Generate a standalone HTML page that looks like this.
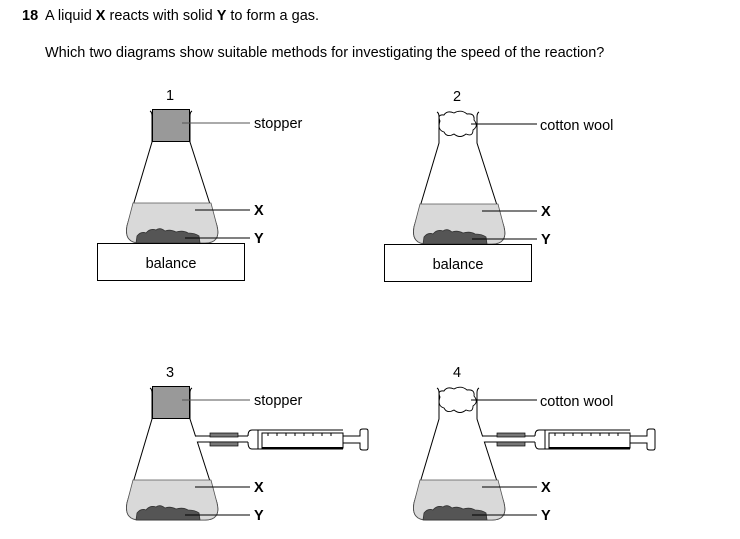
<!DOCTYPE html>
<html><head><style>
body{margin:0;background:#fff;width:740px;height:539px;overflow:hidden;font-family:"Liberation Sans",Arial,sans-serif;}
svg{position:absolute;left:0;top:0}
text{font-family:"Liberation Sans",Arial,sans-serif;font-size:14.5px;fill:#000}
</style></head><body>
<svg width="740" height="539" viewBox="0 0 740 539">
<defs>
<g id="flask">
  <path d="M150,111 Q152,112 152,116 L152,142 L127,226 Q124,243 140,243 L205,243 Q221,243 217,226 L190,142 L190,116 Q190,112 192,111" fill="none" stroke="#000" stroke-width="1"/>
  <path d="M133,203 L211,203 L217,226 Q221,243 205,243 L140,243 Q124,243 127,226 Z" fill="#d9d9d9" stroke="#555" stroke-width="0.8"/>
  <path d="M136,243 L137,236 Q141,231 146,233 Q150,228 156,230 Q160,227 165,231 Q170,229 176,232 Q183,230 188,233 Q195,233 199,236 L200,243 Z" fill="#555" stroke="#333" stroke-width="0.8"/>
  <line x1="195" y1="210" x2="250" y2="210" stroke="#000"/>
  <line x1="185" y1="238" x2="250" y2="238" stroke="#000"/>
  <text x="254" y="215" font-weight="bold">X</text>
  <text x="254" y="243" font-weight="bold">Y</text>
</g>
<g id="stopper">
  <rect x="152.5" y="109.5" width="37" height="32" fill="#999" stroke="#000"/>
  <line x1="182" y1="123" x2="250" y2="123" stroke="#555"/>
  <text x="254" y="128">stopper</text>
</g>
<g id="cotton">
  <path d="M153,120 Q150,113 157,114 Q160,109 167,112 Q174,108 180,113 Q188,112 187,119 Q192,125 186,129 Q186,136 179,133 Q173,138 167,133 Q160,137 157,131 Q150,129 153,120 Z" fill="#fff" stroke="#000" stroke-width="0.9"/>
  <line x1="184" y1="123" x2="250" y2="123" stroke="#000"/>
  <text x="253" y="129">cotton wool</text>
</g>
<g id="syringe">
  <rect x="194" y="436.6" width="7" height="5" fill="#fff"/>
  <path d="M195.5,436 L248,436" fill="none" stroke="#000"/>
  <path d="M197.4,442 L248,442" fill="none" stroke="#000"/>
  <rect x="210" y="433" width="28" height="4" fill="#777" stroke="#000" stroke-width="0.7"/>
  <rect x="210" y="442" width="28" height="4" fill="#777" stroke="#000" stroke-width="0.7"/>
  <path d="M248,436 Q248,430 252,430 L343,430 M248,442 Q248,449 252,449 L343,449" fill="none" stroke="#000"/>
  <line x1="258" y1="430" x2="258" y2="449" stroke="#000"/>
  <path d="M262,433 L343,433 L343,448 L262,448 Z" fill="none" stroke="#000"/>
  <line x1="262" y1="448" x2="343" y2="448" stroke="#000" stroke-width="2"/>
  <path d="M343,436 L360,436 L360,431 Q360,429 363,429 L366,429 Q368,429 368,431 L368,448 Q368,450 366,450 L363,450 Q360,450 360,448 L360,443 L343,443" fill="none" stroke="#000"/>
  <g stroke="#000">
    <line x1="268" y1="433" x2="268" y2="436"/><line x1="277" y1="433" x2="277" y2="436"/><line x1="286" y1="433" x2="286" y2="436"/><line x1="295" y1="433" x2="295" y2="436"/><line x1="304" y1="433" x2="304" y2="436"/><line x1="313" y1="433" x2="313" y2="436"/><line x1="322" y1="433" x2="322" y2="436"/><line x1="331" y1="433" x2="331" y2="436"/>
  </g>
</g>
</defs>

<text x="22" y="20" font-weight="bold">18</text>
<text x="45" y="20">A liquid <tspan font-weight="bold">X</tspan> reacts with solid <tspan font-weight="bold">Y</tspan> to form a gas.</text>
<text x="45" y="57">Which two diagrams show suitable methods for investigating the speed of the reaction?</text>

<text x="166" y="100">1</text>
<use href="#flask"/>
<use href="#stopper"/>
<rect x="97.5" y="243.5" width="147" height="37" fill="#fff" stroke="#000"/>
<text x="171" y="268" text-anchor="middle">balance</text>

<g transform="translate(287,1)">
<text x="166" y="100">2</text>
<use href="#flask"/>
<use href="#cotton"/>
<rect x="97.5" y="243.5" width="147" height="37" fill="#fff" stroke="#000"/>
<text x="171" y="268" text-anchor="middle">balance</text>
</g>

<g transform="translate(0,277)">
<text x="166" y="100">3</text>
<use href="#flask"/>
<use href="#stopper"/>
</g>
<use href="#syringe"/>

<g transform="translate(287,277)">
<text x="166" y="100">4</text>
<use href="#flask"/>
<use href="#cotton"/>
</g>
<g transform="translate(287,0)"><use href="#syringe"/></g>
</svg>
</body></html>
